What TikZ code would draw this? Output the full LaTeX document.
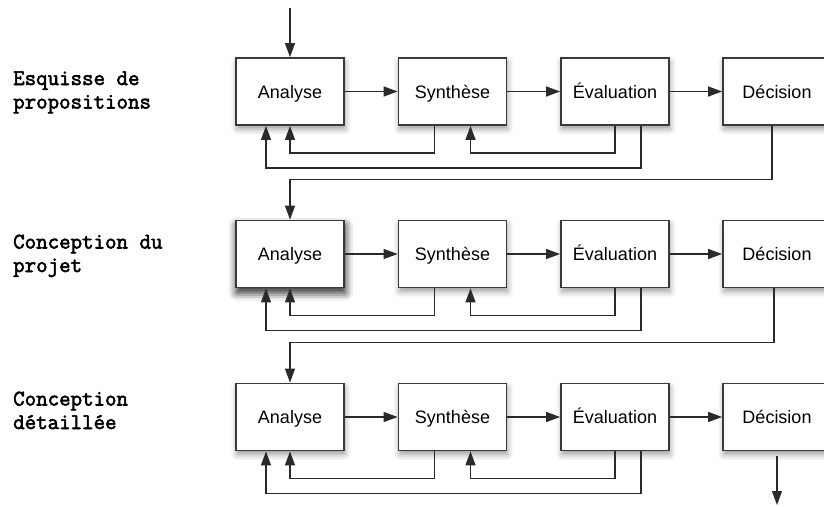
\documentclass[tikz,border=0pt]{standalone}
\usepackage{fontspec}
\setmainfont{Liberation Sans}
\newfontfamily\labelfont[FakeBold=2.5]{Latin Modern Mono}
\usetikzlibrary{arrows.meta,calc,shadows.blur}
\definecolor{boxline}{HTML}{3A3A3A}
\definecolor{conn}{HTML}{2A2A2A}
\tikzset{
  procbox/.style={draw=boxline,line width=1.8pt,fill=white,minimum width=108pt,minimum height=67pt,inner sep=0pt,
    text height=13pt,text depth=0pt,
    font=\fontsize{18}{21}\selectfont,
    blur shadow={shadow xshift=1pt,shadow yshift=-4pt,shadow blur radius=6pt,shadow opacity=40}},
  heavybox/.style={procbox,blur shadow={shadow xshift=1pt,shadow yshift=-5pt,shadow blur radius=8pt,shadow opacity=55}},
  conline/.style={draw=conn,line width=1.3pt},
  arr/.style={conline,-{Triangle[length=14pt,width=10pt]}},
  phase/.style={anchor=base west,align=left,inner sep=0pt,
    font=\labelfont\fontsize{22.3}{23.5}\selectfont}
}
\begin{document}
\begin{tikzpicture}[x=1pt,y=-1pt]
\useasboundingbox (0,0) rectangle (824,506);
% labels (base anchor is the baseline of the last line)
\node[phase] (L1) at (13,108.5) {Esquisse de\\propositions};
\node[phase] (L2) at (13,272) {Conception du\\projet};
\node[phase] (L3) at (13,429) {Conception\\détaillée};
% boxes
\foreach \r/\y in {1/91.5,2/254,3/417}{
  \ifnum\r=2
    \node[heavybox] (A\r) at (290,\y) {Analyse};
  \else
    \node[procbox] (A\r) at (290,\y) {Analyse};
  \fi
  \node[procbox] (S\r) at (452.5,\y) {Synthèse};
  \node[procbox] (E\r) at (615,\y) {Évaluation};
  \node[procbox] (D\r) at (777,\y) {Décision};
}
% entry and exit
\coordinate (start) at (290,8);
\coordinate (finish) at (777,505);
\draw[arr] (start) -- (A1.north);
\draw[arr] ([yshift=-5pt]D3.south) -- (finish);
% row connectors
\foreach \r in {1,2,3}{
  \draw[arr] (A\r) -- (S\r);
  \draw[arr] (S\r) -- (E\r);
  \draw[arr] (E\r) -- (D\r);
  \draw[arr] ([xshift=-18pt]S\r.south) |- ($(A\r.south)+(0,27)$) -- (A\r.south);
  \draw[arr] (E\r.south) |- ($([xshift=18pt]S\r.south)+(0,27)$) -- ([xshift=18pt]S\r.south);
  \draw[arr] ([xshift=26pt]E\r.south) |- ($([xshift=-24pt]A\r.south)+(0,42)$) -- ([xshift=-24pt]A\r.south);
}
\draw[arr] ([xshift=-5pt]D1.south) |- ($(A2.north)+(0,-40)$) -- (A2.north);
\draw[arr] ([xshift=-3pt]D2.south) |- ($(A3.north)+(0,-40)$) -- (A3.north);
\end{tikzpicture}
\end{document}
